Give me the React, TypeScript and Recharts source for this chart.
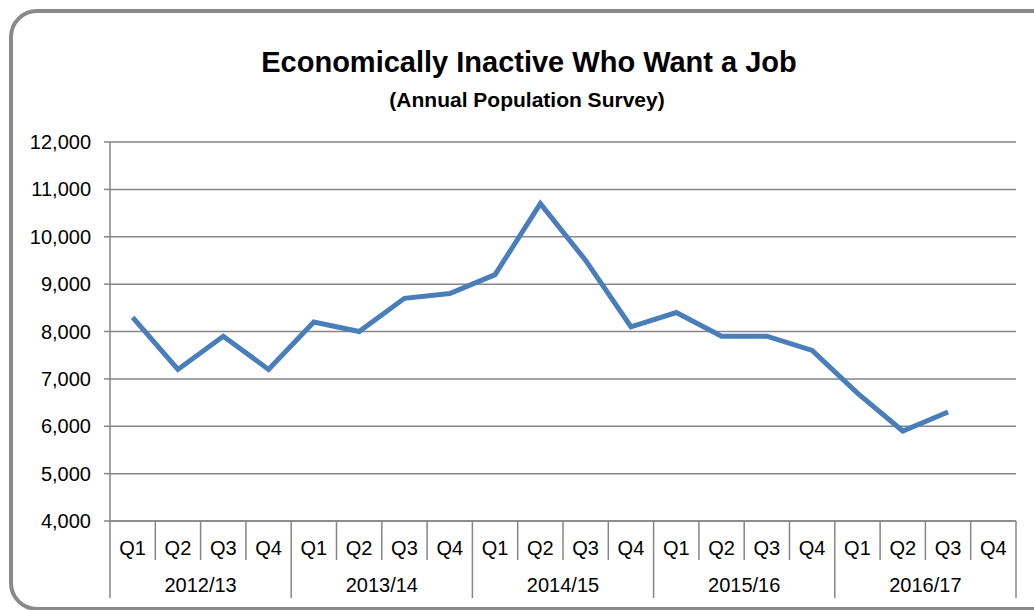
import { LineChart, Line, XAxis, YAxis, CartesianGrid } from "recharts";

const years = ["2012/13", "2013/14", "2014/15", "2015/16", "2016/17"];
const quarters = ["Q1", "Q2", "Q3", "Q4"];
const inactiveWantJob = [
  8300, 7200, 7900, 7200,
  8200, 8000, 8700, 8800,
  9200, 10700, 9500, 8100,
  8400, 7900, 7900, 7600,
  6700, 5900, 6300, null,
];
const yTicks = [4000, 5000, 6000, 7000, 8000, 9000, 10000, 11000, 12000];

const data = years.flatMap((yr, yi) =>
  quarters.map((q, qi) => ({
    key: `${yr}-${q}`,
    q,
    year: yr,
    value: inactiveWantJob[yi * 4 + qi],
  }))
);

const W = 1034;
const H = 610;
const PLOT_LEFT = 110;
const PLOT_RIGHT = 1016;
const PLOT_TOP = 142;
const PLOT_BOTTOM = 521;
const BAND = (PLOT_RIGHT - PLOT_LEFT) / data.length;
const GRAY = "#868686";
const FONT = "'Liberation Sans', Arial, sans-serif";

const QuarterTick = (props: any) => {
  const { x, payload } = props;
  const i = payload?.index ?? props.index ?? 0;
  const d = data[i];
  const left = x - BAND / 2;
  const yearStart = i % 4 === 0;
  return (
    <g>
      <line
        x1={left}
        x2={left}
        y1={PLOT_BOTTOM}
        y2={PLOT_BOTTOM + (yearStart ? 77 : 39)}
        stroke={GRAY}
        strokeWidth={1.5}
      />
      {i === data.length - 1 && (
        <line
          x1={x + BAND / 2}
          x2={x + BAND / 2}
          y1={PLOT_BOTTOM}
          y2={PLOT_BOTTOM + 77}
          stroke={GRAY}
          strokeWidth={1.5}
        />
      )}
      <text x={x} y={PLOT_BOTTOM + 34} textAnchor="middle" fontSize={20} fill="#000" fontFamily={FONT}>
        {d?.q}
      </text>
      {yearStart && (
        <text
          x={left + BAND * 2}
          y={PLOT_BOTTOM + 71}
          textAnchor="middle"
          fontSize={20}
          fill="#000"
          fontFamily={FONT}
        >
          {d?.year}
        </text>
      )}
    </g>
  );
};

export default function App() {
  return (
    <div style={{ position: "absolute", left: 0, top: 0, width: W, height: H, background: "#fff", overflow: "hidden", fontFamily: FONT }}>
      <div
        style={{
          position: "absolute",
          left: 9,
          top: 9,
          width: 1060,
          height: 594,
          border: `4px solid #8a8a8a`,
          borderRadius: 28,
        }}
      />
      <div style={{ position: "absolute", left: 0, width: 1058, top: 46, textAlign: "center", fontSize: 29, fontWeight: "bold", color: "#000" }}>
        Economically Inactive Who Want a Job
      </div>
      <div style={{ position: "absolute", left: 0, width: 1054, top: 88, textAlign: "center", fontSize: 21, fontWeight: "bold", color: "#000" }}>
        (Annual Population Survey)
      </div>
      <div style={{ position: "absolute", left: 0, top: 0 }}>
        <LineChart
          width={W}
          height={H}
          data={data}
          margin={{ top: PLOT_TOP, right: W - PLOT_RIGHT, bottom: 0, left: 0 }}
        >
          <CartesianGrid vertical={false} stroke={GRAY} strokeWidth={1.5} />
          <XAxis
            dataKey="key"
            scale="band"
            interval={0}
            height={H - PLOT_BOTTOM}
            axisLine={{ stroke: GRAY, strokeWidth: 1.5 }}
            tickLine={false}
            tick={<QuarterTick />}
          />
          <YAxis
            width={PLOT_LEFT}
            domain={[4000, 12000]}
            ticks={yTicks}
            interval={0}
            tickFormatter={(v: number) => v.toLocaleString("en-US")}
            tick={{ fill: "#000", fontSize: 20, fontFamily: FONT }}
            tickSize={6}
            tickMargin={13}
            tickLine={{ stroke: GRAY, strokeWidth: 1.5 }}
            axisLine={{ stroke: GRAY, strokeWidth: 1.5 }}
          />
          <Line
            type="linear"
            dataKey="value"
            stroke="#4a7ebb"
            strokeWidth={5}
            dot={false}
            activeDot={false}
            isAnimationActive={false}
          />
        </LineChart>
      </div>
    </div>
  );
}
